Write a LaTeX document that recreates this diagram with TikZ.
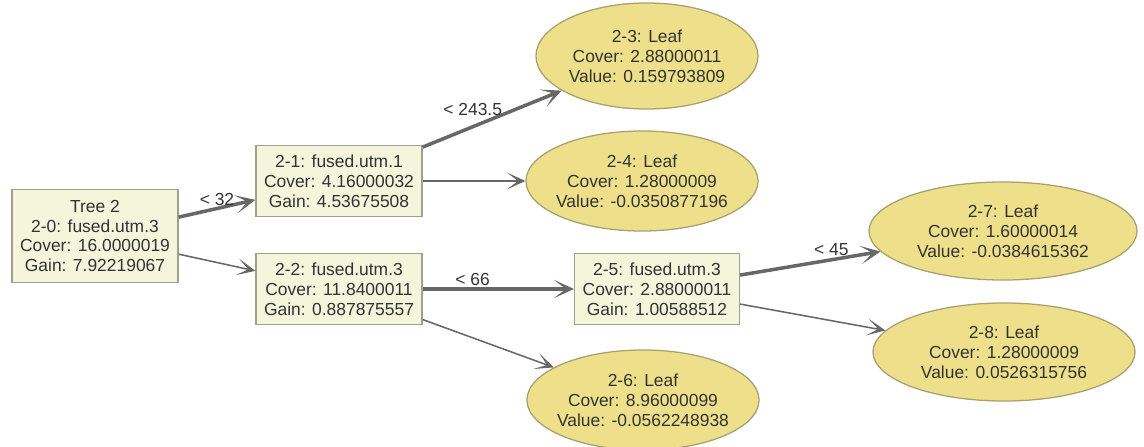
\documentclass[tikz,border=0pt]{standalone}
\usepackage{fontspec}
\setmainfont{Liberation Sans}
\usepackage{tikz}
\usetikzlibrary{arrows.meta, shapes.geometric}
\usepackage{xcolor}

\definecolor{boxfill}{HTML}{F5F5DC}
\definecolor{boxline}{HTML}{A0A090}
\definecolor{leaffill}{HTML}{EEE08A}
\definecolor{leafline}{HTML}{A8A070}
\definecolor{edgegray}{HTML}{676767}
\definecolor{textgray}{HTML}{333333}

\begin{document}
\begin{tikzpicture}[x=0.025cm, y=-0.025cm,
    every node/.style={font=\fontsize{12.4}{14.2}\selectfont, text=textgray},
    splitbox/.style={rectangle, draw=boxline, fill=boxfill, line width=0.9pt,
        align=center, inner sep=0pt, minimum width=4.15cm, minimum height=1.775cm},
    leafnode/.style={ellipse, draw=leafline, fill=leaffill, line width=0.9pt,
        align=center, inner xsep=-3pt, inner ysep=0pt},
    yesedge/.style={-{Stealth[length=5mm, width=4.6mm, inset=3mm]}, draw=edgegray, line width=2.5pt},
    noedge/.style={-{Stealth[length=4.6mm, width=4.2mm, inset=2.8mm]}, draw=edgegray, line width=1.1pt},
    edgelabel/.style={above, inner sep=1pt}]

    % Frame
    \clip (0,0) rectangle (1144,447);

    % Split nodes
    \node[splitbox, minimum height=2.325cm] (n20) at (95,236)
        {Tree 2\\2-0: fused.utm.3\\Cover: 16.0000019\\Gain: 7.92219067};
    \node[splitbox] (n21) at (339,181)
        {2-1: fused.utm.1\\Cover: 4.16000032\\Gain: 4.53675508};
    \node[splitbox] (n22) at (339,289)
        {2-2: fused.utm.3\\Cover: 11.8400011\\Gain: 0.887875557};
    \node[splitbox, minimum width=4.125cm] (n25) at (657,289)
        {2-5: fused.utm.3\\Cover: 2.88000011\\Gain: 1.00588512};

    % Leaves
    \node[leafnode, minimum width=5.55cm, minimum height=2.65cm] (n23) at (647,56)
        {2-3: Leaf\\Cover: 2.88000011\\Value: 0.159793809};
    \node[leafnode, minimum width=5.8cm, minimum height=2.5cm] (n24) at (642,181)
        {2-4: Leaf\\Cover: 1.28000009\\Value: -0.0350877196};
    \node[leafnode, minimum width=5.8cm, minimum height=2.5cm] (n26) at (643,400)
        {2-6: Leaf\\Cover: 8.96000099\\Value: -0.0562248938};
    \node[leafnode, minimum width=6.7cm, minimum height=2.45cm] (n27) at (1003,231)
        {2-7: Leaf\\Cover: 1.60000014\\Value: -0.0384615362};
    \node[leafnode, minimum width=6.55cm, minimum height=2.45cm] (n28) at (1004,352)
        {2-8: Leaf\\Cover: 1.28000009\\Value: 0.0526315756};

    % Edges
    \draw[yesedge] (n20) -- node[edgelabel, pos=0.5] {< 32} (n21);
    \draw[noedge] (n20) -- (n22);
    \draw[yesedge] (n21) -- node[edgelabel, pos=0.36, yshift=6pt] {< 243.5} (n23);
    \draw[noedge] (n21) -- (n24);
    \draw[yesedge] (n22) -- node[edgelabel, pos=0.33] {< 66} (n25);
    \draw[noedge] (n22) -- (n26);
    \draw[yesedge] (n25) -- node[edgelabel, pos=0.65, yshift=1pt] {< 45} (n27);
    \draw[noedge] (n25) -- (n28);

\end{tikzpicture}
\end{document}
